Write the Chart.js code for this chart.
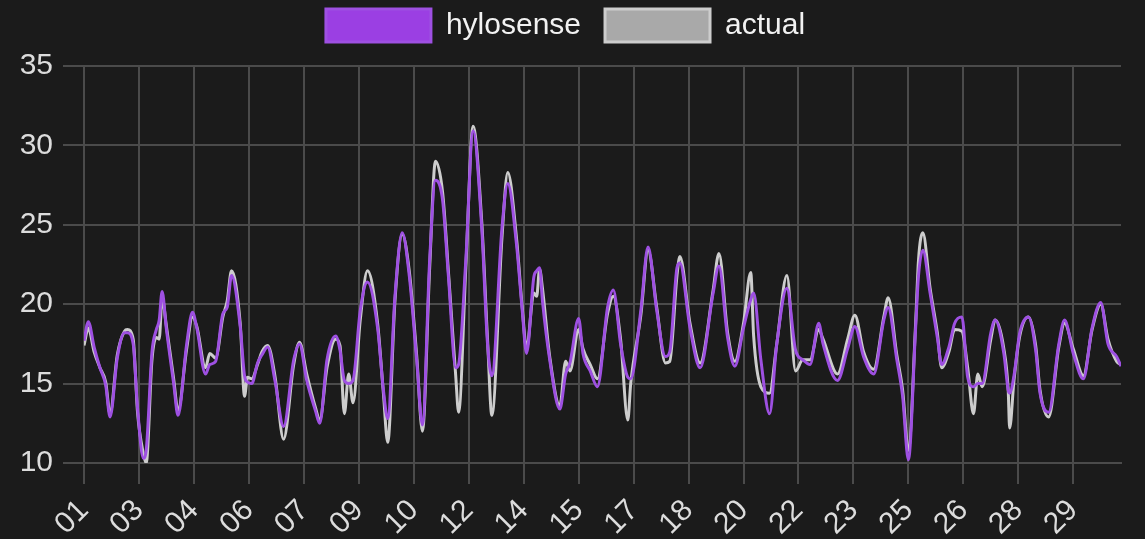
<!DOCTYPE html>
<html>
<head>
<meta charset="utf-8">
<script src="https://cdn.jsdelivr.net/npm/chart.js@4.4.1/dist/chart.umd.min.js"></script>
<style>
html, body { margin: 0; padding: 0; background: #1b1b1b; }
#wrap { width: 1145px; height: 539px; }
</style>
</head>
<body>
<div id="wrap"><canvas id="chart"></canvas></div>
<script>
// ========================================
// Data (hours since the start of the month)
// ========================================

const hours = [11,14,18,22,26,29,34,39,41,45,48,52,54,58,61,63,65,68,73,76,
82,86,89,95,98,102,107,110,113,119,122,124,127,131,134,138,143,149,156,160,
165,171,174,179,185,188,191,194,197,202,207,214,218,221,226,231,236,241,245,250,
254,259,263,268,270,275,280,286,290,293,300,304,310,314,317,322,324,326,328,333,
340,344,347,353,356,361,366,373,377,382,387,389,396,401,407,413,416,421,423,430,
437,446,450,456,461,467,472,474,479,485,490,497,503,508,513,519,522,532,539,544,
550,557,564,567,573,577,581,586,588,591,596,601,604,609,613,618,622,626,629,632,
638,641,647,650,651,654,658,664,669,672,678,685,689,695,702,708,714,719,725,728];

const hylosense = [17.7,18.9,17.3,16.0,14.9,12.9,16.6,18.2,18.2,17.5,13.5,10.3,10.8,17.0,18.4,19.0,20.8,18.4,15.0,13.0,
17.5,19.5,18.5,15.6,16.2,16.4,19.4,19.8,21.8,18.6,15.5,15.1,15.0,16.3,16.8,17.3,15.2,12.3,16.5,17.5,
15.2,13.3,12.5,16.5,18.0,17.1,15.2,15.0,15.2,19.6,21.4,18.5,14.6,12.8,20.5,24.5,21.7,16.5,12.4,22.8,
27.8,26.5,21.7,16.0,16.2,22.8,30.9,24.8,17.5,15.5,24.8,27.6,23.8,19.6,16.9,21.7,22.1,22.3,20.2,16.5,
13.4,15.6,16.3,19.1,16.9,15.8,14.8,19.8,20.9,17.5,15.4,15.3,19.6,23.6,19.6,16.7,17.0,22.3,22.6,18.5,
16.0,20.7,22.4,17.9,16.1,18.5,20.3,20.7,16.5,13.1,17.5,21.0,17.1,16.5,16.2,18.8,17.5,15.2,17.2,18.6,
16.7,15.6,19.0,19.8,16.5,14.2,10.2,18.5,21.8,23.4,20.7,17.9,16.2,17.3,18.8,19.2,15.4,14.8,15.0,15.0,
18.2,19.0,16.9,14.6,14.4,15.5,18.2,19.2,17.1,14.4,13.2,17.5,19.0,16.9,15.3,18.5,20.1,17.5,16.7,16.1];

const actual = [17.4,18.5,17.0,16.0,15.1,13.1,16.8,18.3,18.4,17.8,13.2,10.6,10.0,16.5,17.9,17.8,20.4,18.6,15.3,13.3,
17.2,19.2,18.6,16.0,16.9,16.6,19.2,20.2,22.1,18.8,14.2,15.4,15.3,16.2,17.0,17.4,15.5,11.5,16.2,17.6,
15.6,13.5,12.7,16.0,17.8,17.4,13.1,15.6,13.8,19.0,22.1,18.8,14.4,11.3,20.2,24.4,22.0,16.8,12.0,22.3,
29.0,27.0,22.0,15.5,13.2,22.3,31.2,25.2,17.8,13.0,24.2,28.3,24.2,19.8,17.2,20.7,20.5,22.2,21.0,16.7,
13.6,16.4,15.8,18.4,17.2,16.2,15.3,19.4,20.5,17.8,12.7,15.0,19.3,23.4,19.8,16.3,16.4,21.8,23.0,18.8,
16.3,20.9,23.2,18.2,16.4,18.8,22.0,18.0,14.8,14.4,17.5,21.8,15.8,16.5,16.5,18.4,17.8,15.6,17.8,19.3,
17.0,15.9,19.2,20.4,16.8,14.6,10.8,18.8,22.8,24.5,21.0,18.2,16.0,17.0,18.4,18.3,16.0,13.1,15.6,14.8,
17.8,19.0,17.2,14.6,12.2,15.2,18.0,19.2,17.4,14.6,12.9,17.3,18.8,17.2,15.5,18.4,20.0,17.8,16.4,16.2];

const tickHours = [11,49,87,125,163,201,239,277,315,353,391,429,467,505,543,581,619,657,695];
const tickLabels = ["01","03","04","06","07","09","10","12","14","15","17","18","20","22","23","25","26","28","29"];

// ========================================
// Chart
// ========================================

Chart.defaults.color = "#dcdcdc";
Chart.defaults.font.family = "'Liberation Sans', Arial, sans-serif";
Chart.defaults.font.size = 30;

const gridColor = "#4b4b4b";

function points(values) {
  return hours.map((h, i) => ({ x: h, y: values[i] }));
}

new Chart(document.getElementById("chart"), {
  type: "line",
  data: {
    datasets: [
      {
        label: "hylosense",
        data: points(hylosense),
        borderColor: "#9e50e2",
        backgroundColor: "#9b3fe3",
        borderWidth: 3,
        pointRadius: 0,
        tension: 0.4,
        cubicInterpolationMode: "monotone"
      },
      {
        label: "actual",
        data: points(actual),
        borderColor: "#cdcdcd",
        backgroundColor: "#a9a9a9",
        borderWidth: 3,
        pointRadius: 0,
        tension: 0.4,
        cubicInterpolationMode: "monotone"
      }
    ]
  },
  options: {
    responsive: true,
    maintainAspectRatio: false,
    animation: false,
    layout: { padding: { top: -15, left: 5, right: 19, bottom: 0 } },
    plugins: {
      legend: {
        labels: { boxWidth: 105, boxHeight: 33, padding: 24, color: "#f2f2f2", font: { size: 30 } }
      },
      // empty spacer between legend and plot
      subtitle: {
        display: true, text: "", weight: 500,
        padding: { top: 13, bottom: 0 }, font: { size: 1, lineHeight: 1 }
      },
      tooltip: { enabled: false }
    },
    scales: {
      x: {
        type: "linear",
        min: 11,
        max: 728,
        afterBuildTicks: axis => { axis.ticks = tickHours.map(v => ({ value: v })); },
        afterFit: axis => { axis.height = 76; axis.paddingLeft = 0; axis.paddingRight = 24; },
        grid: { color: gridColor, lineWidth: 2, tickLength: 21 },
        border: { color: gridColor, width: 2 },
        ticks: {
          autoSkip: false, minRotation: 45, maxRotation: 45, padding: 9,
          callback: (v, i) => tickLabels[i]
        }
      },
      y: {
        min: 10,
        max: 35,
        afterFit: axis => { axis.width = 79; },
        grid: { color: gridColor, lineWidth: 2, tickLength: 21 },
        border: { color: gridColor, width: 2 },
        ticks: { stepSize: 5, padding: 10 }
      }
    }
  }
});
</script>
</body>
</html>
